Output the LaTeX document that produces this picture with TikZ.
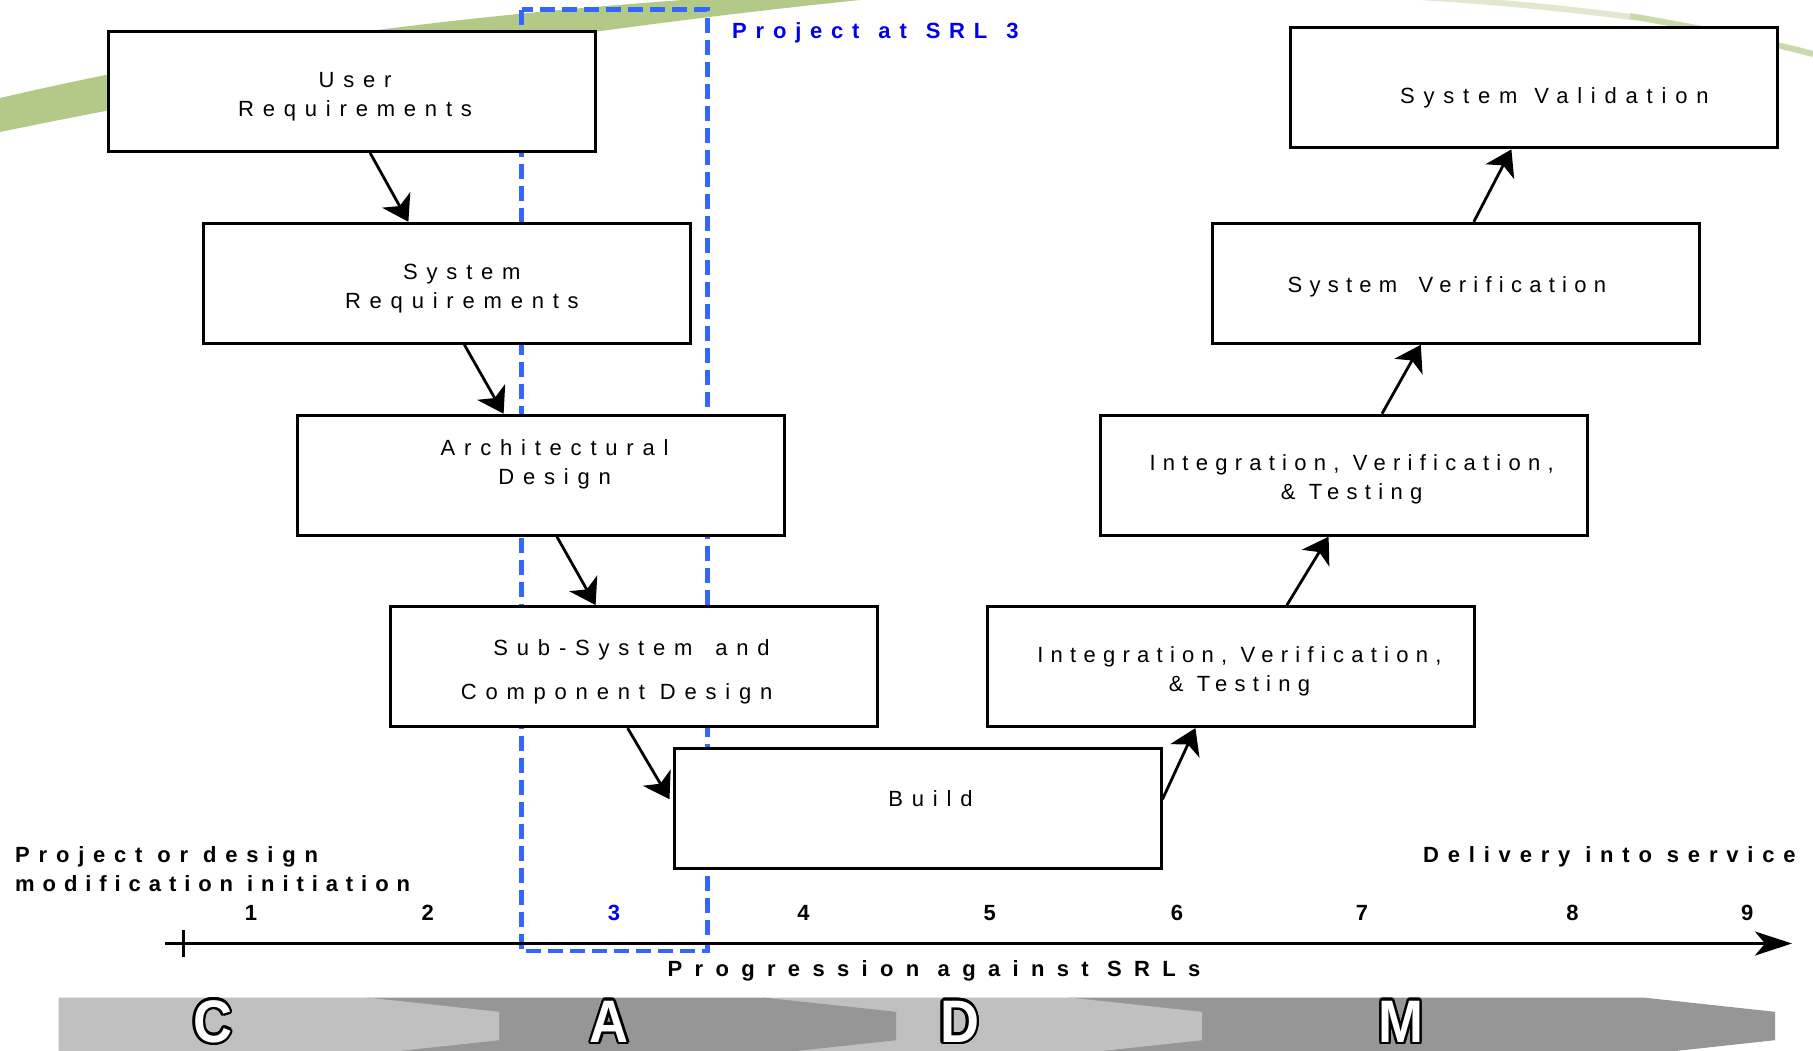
\documentclass[tikz,border=0pt]{standalone}
\usepackage{fontspec}
\setmainfont{Liberation Sans}
\newfontfamily\trackfont[LetterSpace=40]{Liberation Sans}
\newfontfamily\tightfont[LetterSpace=33]{Liberation Sans}
\newfontfamily\boldtrack[LetterSpace=36]{Liberation Sans}
\newfontfamily\boldwide[LetterSpace=40]{Liberation Sans}
\newfontfamily\widetrack[LetterSpace=56]{Liberation Sans}
\usepackage[copies]{contour}
\contourlength{2.6pt}
\usetikzlibrary{arrows.meta}

\definecolor{swoosh}{RGB}{178,201,135}
\definecolor{srlblue}{RGB}{0,0,238}
\definecolor{dashblue}{RGB}{51,102,255}
\definecolor{barlight}{RGB}{192,192,192}
\definecolor{bardark}{RGB}{150,150,150}

% box text: horizontal nudge (doubled), vertical raise, lines
\newcommand{\boxlines}[3]{\raisebox{#2}[0pt][0pt]{\hspace*{#1}\begin{tabular}{@{}c@{}}#3\end{tabular}}}

\begin{document}
\begin{tikzpicture}[x=1pt,y=-1pt,
  box/.style={draw=black, line width=3pt, fill=white, minimum width=487pt,
    minimum height=120pt, inner sep=0pt,
    font={\trackfont\fontsize{22}{29}\selectfont}},
  conn/.style={line width=2.8pt, -{Stealth[length=25pt,width=32pt,inset=7pt]}},
  axisline/.style={line width=3pt, -{Stealth[length=37pt,width=24pt,inset=10pt]}},
  tick/.style={font={\bfseries\fontsize{22}{26}\selectfont}},
  boldlab/.style={font={\boldwide\bfseries\fontsize{22}{29}\selectfont}, inner sep=0pt},
  srlframe/.style={draw=dashblue, line width=4.5pt, dash pattern=on 15pt off 7pt},
  phase/.style={text=white, font={\bfseries\fontsize{60}{60}\selectfont}, inner sep=0pt}]

\useasboundingbox (0,0) rectangle (1813,1050);
\fill[white] (0,0) rectangle (1813,1050);

% background swoosh
\fill[swoosh] (0,98) .. controls (250,40) and (470,14) .. (740,-4)
  -- (900,-4) .. controls (600,25) and (250,80) .. (0,132) -- cycle;
\draw[swoosh!40, line width=6pt] (1420,-3) .. controls (1500,2) and (1560,8) .. (1640,18);
\draw[swoosh!70, line width=6pt] (1630,16) .. controls (1700,28) and (1760,40) .. (1813,54);

% SRL 3 frame
\draw[srlframe] (521.5,9.5) rectangle (707.7,951);
\node[boldlab, text=srlblue, anchor=west] (srllab) at (732,33) {Project\hspace{4pt} at\hspace{4pt} SRL\hspace{4pt} 3};

% V-model boxes
\node[box] (ur) at (352.1,91.4) {\boxlines{6pt}{-10.1pt}{User\\Requirements}};
\node[box] (sr) at (446.9,283.3) {\boxlines{30pt}{-10.1pt}{System\\Requirements}};
\node[box] (ad) at (540.6,475.2) {\boxlines{28pt}{5.8pt}{Architectural\\Design}};
\node[box] (sub) at (633.6,666.6) {\boxlines{-4pt}{-10.1pt}{Sub-System\hspace{8pt} and\\[15pt]\hspace*{-30pt}Component Design}};
\node[box] (build) at (917.5,808.2) {\boxlines{26pt}{2.2pt}{Build}};
\node[box, font={\tightfont\fontsize{22}{29}\selectfont}] (ivta) at (1231.4,666.6) {\boxlines{16pt}{-10.1pt}{Integration, Verification,\\\& Testing}};
\node[box, font={\tightfont\fontsize{22}{29}\selectfont}] (ivtb) at (1343.6,475.2) {\boxlines{16pt}{-9pt}{Integration, Verification,\\\& Testing}};
\node[box, font={\tightfont\fontsize{22}{29}\selectfont}] (sv) at (1455.8,283.3) {\boxlines{-18pt}{-9pt}{System\hspace{8pt} Verification}};
\node[box] (val) at (1534.4,87.9) {\boxlines{40pt}{-15pt}{System\hspace{2pt} Validation}};

% flow
\draw[conn] ([xshift=263pt]ur.south west) -- ([xshift=206.5pt]sr.north west);
\draw[conn] ([xshift=262.5pt]sr.south west) -- ([xshift=208pt]ad.north west);
\draw[conn] ([xshift=261.3pt]ad.south west) -- ([xshift=207pt]sub.north west);
\draw[conn] ([xshift=239pt]sub.south west) -- ([yshift=9pt,xshift=-3pt]build.west);
\draw[conn] ([yshift=9pt]build.east) -- ([xshift=209pt]ivta.south west);
\draw[conn] ([xshift=300.5pt]ivta.north west) -- ([xshift=230pt]ivtb.south west);
\draw[conn] ([xshift=283.4pt]ivtb.north west) -- ([xshift=210pt]sv.south west);
\draw[conn] ([xshift=263pt]sv.north west) -- ([xshift=222pt]val.south west);

% SRL axis
\coordinate (ax0) at (165,943.5);
\coordinate (ax1) at (1792,943.5);
\draw[axisline] (ax0) -- (ax1);
\draw[line width=3pt] (183,930) -- (183,957);
\node[tick] (n1) at (250.9,913) {1};
\node[tick] (n2) at (427.8,913) {2};
\node[tick, text=srlblue] (n3) at (614,913) {3};
\node[tick] (n4) at (803.6,913) {4};
\node[tick] (n5) at (989.8,913) {5};
\node[tick] (n6) at (1177.1,913) {6};
\node[tick] (n7) at (1362.1,913) {7};
\node[tick] (n8) at (1572.6,913) {8};
\node[tick] (n9) at (1747.2,913) {9};

\node[boldlab, anchor=west, align=left] (init) at (15,869) {Project or design\\{\boldtrack modification initiation}};
\node[boldlab, anchor=west] (deliv) at (1423,857) {Delivery into service};
\node[font={\widetrack\bfseries\fontsize{22}{26}\selectfont}, inner sep=0pt] (prog) at (934,971) {Progression against SRLs};

% life-cycle phase chevrons
\fill[bardark] (1069,997.5) -- (1643,997.5) -- (1775,1011.8) -- (1775,1040.2) -- (1643,1054.5) -- (1069,1054.5) -- cycle;
\fill[barlight] (763,997.5) -- (1069,997.5) -- (1202,1011.8) -- (1202,1040.2) -- (1069,1054.5) -- (763,1054.5) -- cycle;
\fill[bardark] (367,997.5) -- (763,997.5) -- (896,1011.8) -- (896,1040.2) -- (763,1054.5) -- (367,1054.5) -- cycle;
\fill[barlight] (58.7,997.5) -- (367,997.5) -- (499,1011.8) -- (499,1040.2) -- (367,1054.5) -- (58.7,1054.5) -- cycle;

% phase letters, white with black outline
\node[phase] (pc) at (212.8,1023) {\scalebox{0.9}[1]{\contour{black}{C}}};
\node[phase] (pa) at (609.3,1023) {\scalebox{0.9}[1]{\contour{black}{A}}};
\node[phase] (pd) at (959.6,1023) {\scalebox{0.9}[1]{\contour{black}{D}}};
\node[phase] (pm) at (1401,1023) {\scalebox{0.9}[1]{\contour{black}{M}}};
\end{tikzpicture}
\end{document}
